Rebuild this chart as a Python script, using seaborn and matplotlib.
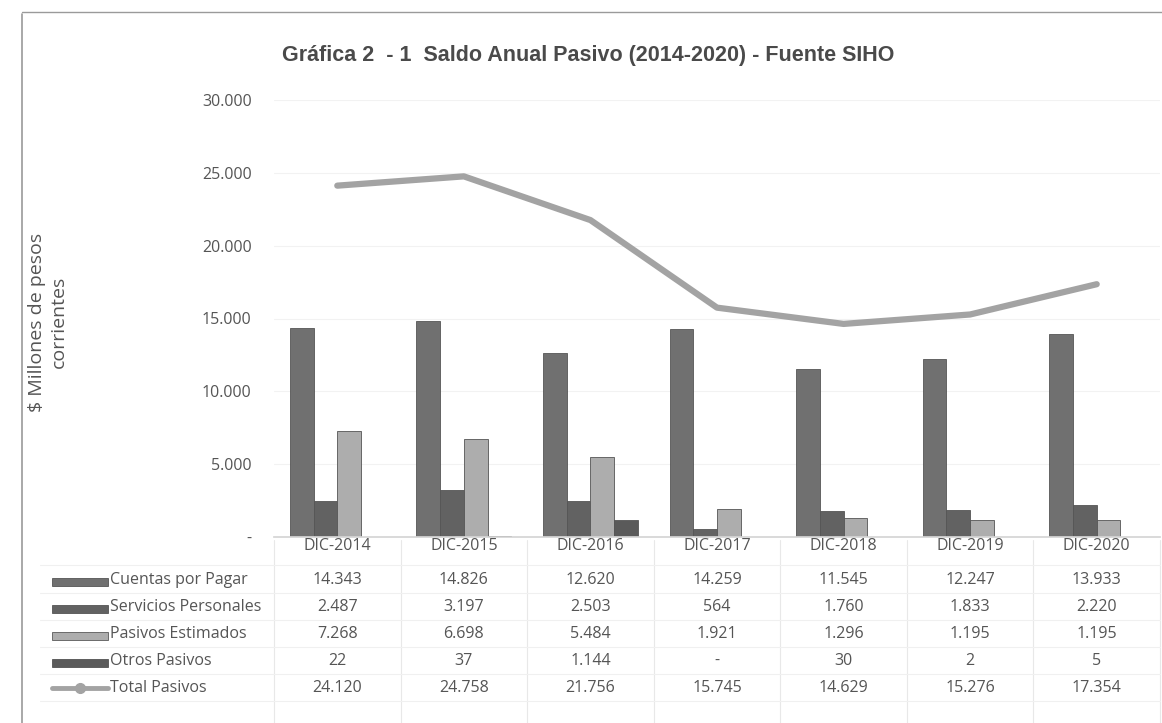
import numpy as np
import pandas as pd
import matplotlib
matplotlib.use("Agg")
import matplotlib.pyplot as plt
import matplotlib.transforms as mtransforms
from matplotlib.lines import Line2D
from matplotlib.patches import Rectangle
import seaborn as sns

categories = ["DIC-2014", "DIC-2015", "DIC-2016", "DIC-2017", "DIC-2018", "DIC-2019", "DIC-2020"]
cuentas_por_pagar = [14343, 14826, 12620, 14259, 11545, 12247, 13933]
servicios_personales = [2487, 3197, 2503, 564, 1760, 1833, 2220]
pasivos_estimados = [7268, 6698, 5484, 1921, 1296, 1195, 1195]
otros_pasivos = [22, 37, 1144, 0, 30, 2, 5]
total_pasivos = [24120, 24758, 21756, 15745, 14629, 15276, 17354]
series_names = ["Cuentas por Pagar", "Servicios Personales", "Pasivos Estimados", "Otros Pasivos"]
total_name = "Total Pasivos"
yticks = [0, 5000, 10000, 15000, 20000, 25000, 30000]
ytick_labels = ["-", "5.000", "10.000", "15.000", "20.000", "25.000", "30.000"]
title = "Gráfica 2  - 1  Saldo Anual Pasivo (2014-2020) - Fuente SIHO"
ylabel = "$ Millones de pesos\ncorrientes"

bar_values = [cuentas_por_pagar, servicios_personales, pasivos_estimados, otros_pasivos]
bar_colors = ["#707070", "#626262", "#adadad", "#5a5a5a"]
line_color = "#a3a3a3"
text_color = "#555555"

def fmt(v):
    if v == 0:
        return "-"
    return f"{v:,}".replace(",", ".")

rows = []
for name, vals in zip(series_names, bar_values):
    for c, v in zip(categories, vals):
        rows.append({"cat": c, "serie": name, "valor": v})
df = pd.DataFrame(rows)

sns.set_theme(style="white")
plt.rcParams["font.family"] = ["Open Sans", "DejaVu Sans"]

W, H = 1162, 723
fig = plt.figure(figsize=(W / 100, H / 100), dpi=100)
ax_l, ax_r, ax_b, ax_t = 274, 1160, 537, 100
ax = fig.add_axes([ax_l / W, 1 - ax_b / H, (ax_r - ax_l) / W, (ax_b - ax_t) / H])

sns.barplot(data=df, x="cat", y="valor", hue="serie", order=categories,
            hue_order=series_names, palette=bar_colors, width=0.75,
            saturation=1, dodge=True, ax=ax, legend=False, linewidth=0.6,
            edgecolor="#555555")

sns.lineplot(x=np.arange(len(categories)), y=total_pasivos, ax=ax,
             color=line_color, linewidth=4.5, legend=False)

ax.set_xlim(-0.5, len(categories) - 0.5)
ax.set_ylim(0, 30000)
ax.set_yticks(yticks)
ax.set_yticklabels(ytick_labels, fontsize=11.5, color=text_color)
ax.set_xticks(range(len(categories)))
ax.set_xticklabels(categories, fontsize=11.5, color=text_color)
ax.tick_params(axis="x", length=0, pad=1)
ax.tick_params(axis="y", length=0, pad=16)
ax.set_xlabel("")
ax.set_ylabel("")
for y in yticks[1:]:
    ax.axhline(y, color="#f2f2f2", linewidth=0.8, zorder=0)
for s in ["top", "right", "left"]:
    ax.spines[s].set_visible(False)
ax.spines["bottom"].set_color("#d5d5d5")

fig.text(588 / W, 1 - 55 / H, title, ha="center", va="center", fontsize=15.5,
         family="Liberation Sans", weight="bold", color="#4a4a4a")
fig.text(48 / W, 1 - 322 / H, ylabel, ha="center", va="center", rotation=90,
         fontsize=14, color=text_color, linespacing=1.25)

# data table under the chart
trans = mtransforms.blended_transform_factory(ax.transData, fig.transFigure)
row_px = [580, 607, 634, 661, 688]
all_rows = bar_values + [total_pasivos]
all_names = series_names + [total_name]
for ypx, vals in zip(row_px, all_rows):
    for i, v in enumerate(vals):
        ax.text(i, 1 - ypx / H, fmt(v), transform=trans, ha="center", va="center",
                fontsize=11.5, color=text_color, clip_on=False)

ftrans = fig.transFigure
for k, (ypx, name) in enumerate(zip(row_px, all_names)):
    yfig = 1 - ypx / H
    fig.text(110 / W, yfig, name, ha="left", va="center", fontsize=11.5, color=text_color)
    if k < 4:
        fig.add_artist(Rectangle((52 / W, yfig - 6 / H), 56 / W, 8 / H,
                                 transform=ftrans, facecolor=bar_colors[k],
                                 edgecolor="#404040", linewidth=0.5))
    else:
        fig.add_artist(Line2D([52 / W, 108 / W], [yfig, yfig], transform=ftrans,
                              color=line_color, linewidth=3.5))
        fig.add_artist(Line2D([80 / W], [yfig], transform=ftrans, marker="o",
                              markersize=7, color=line_color))

# table grid lines
for i in range(len(categories) + 1):
    ax.plot([i - 0.5, i - 0.5], [1 - 540 / H, 0.0], transform=trans, color="#e8e8e8",
            linewidth=0.8, clip_on=False)
for ypx in [565, 593, 620, 647, 674, 701]:
    fig.add_artist(Line2D([40 / W, ax_r / W], [1 - ypx / H] * 2,
                          transform=ftrans, color="#f0f0f0", linewidth=0.8))

# scan frame
fig.add_artist(Line2D([22 / W, 22 / W], [0.0, 1 - 14 / H], transform=ftrans, color="#9a9a9a", linewidth=1.2))
fig.add_artist(Line2D([22 / W, 1.0], [1 - 12 / H, 1 - 12 / H], transform=ftrans, color="#9a9a9a", linewidth=1.0))

fig.savefig("out.png", dpi=100)
